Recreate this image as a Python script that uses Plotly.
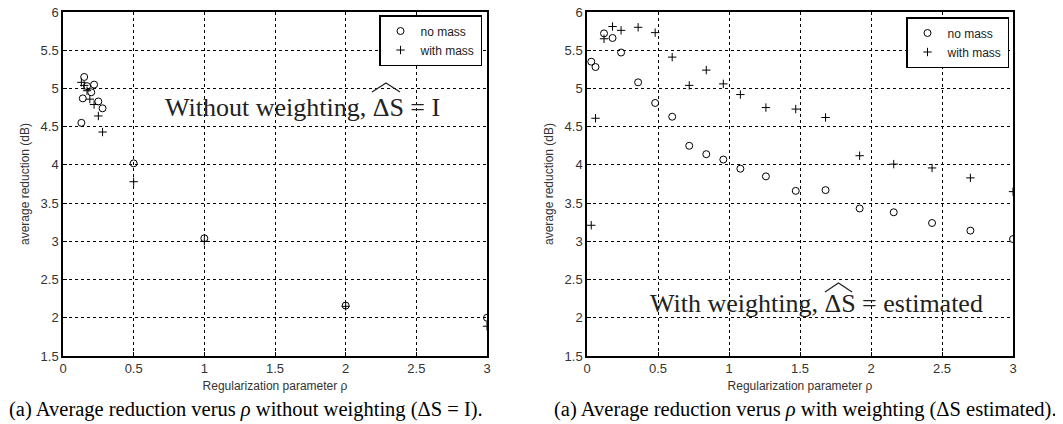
import plotly.graph_objects as go

# ---- data (left: without weighting) ----
left_nomass_x = [0.13, 0.14, 0.15, 0.17, 0.20, 0.22, 0.25, 0.28, 0.5, 1.0, 2.0, 3.0]
left_nomass_y = [4.55, 4.87, 5.15, 5.03, 4.95, 5.05, 4.83, 4.74, 4.02, 3.04, 2.16, 2.00]
left_mass_x = [0.13, 0.15, 0.17, 0.19, 0.22, 0.25, 0.28, 0.5, 1.0, 2.0, 3.0]
left_mass_y = [5.08, 5.04, 4.97, 4.86, 4.79, 4.64, 4.43, 3.78, 3.00, 2.15, 1.89]

# ---- data (right: with weighting) ----
right_x = [0.03, 0.06, 0.12, 0.18, 0.24, 0.36, 0.48, 0.60, 0.72, 0.84, 0.96,
           1.08, 1.26, 1.47, 1.68, 1.92, 2.16, 2.43, 2.70, 3.00]
right_nomass_y = [5.35, 5.28, 5.72, 5.66, 5.47, 5.08, 4.81, 4.63, 4.25, 4.14, 4.07,
                  3.95, 3.85, 3.66, 3.67, 3.43, 3.38, 3.24, 3.14, 3.03]
right_mass_y = [3.21, 4.61, 5.65, 5.81, 5.76, 5.80, 5.73, 5.41, 5.04, 5.24, 5.06,
                4.92, 4.75, 4.73, 4.62, 4.12, 4.01, 3.96, 3.83, 3.65]

x_ticks = [0, 0.5, 1, 1.5, 2, 2.5, 3]
y_ticks = [1.5, 2, 2.5, 3, 3.5, 4, 4.5, 5, 5.5, 6]

W, H = 1063, 424
OFF = 8  # page body margin
SANS = "Liberation Sans, Arial, sans-serif"
SERIF = "Liberation Serif, Times New Roman, serif"

fig = go.Figure()

circ = dict(symbol="circle-open", size=7, color="black", line=dict(color="black", width=1))
plus = dict(symbol="cross-thin-open", size=6, color="black", line=dict(color="black", width=1))

fig.add_trace(go.Scatter(x=left_nomass_x, y=left_nomass_y, mode="markers", marker=circ,
                         name="no mass", xaxis="x", yaxis="y", legend="legend"))
fig.add_trace(go.Scatter(x=left_mass_x, y=left_mass_y, mode="markers", marker=plus,
                         name="with mass", xaxis="x", yaxis="y", legend="legend"))
fig.add_trace(go.Scatter(x=right_x, y=right_nomass_y, mode="markers", marker=circ,
                         name="no mass", xaxis="x2", yaxis="y2", legend="legend2"))
fig.add_trace(go.Scatter(x=right_x, y=right_mass_y, mode="markers", marker=plus,
                         name="with mass", xaxis="x2", yaxis="y2", legend="legend2"))

def px_x(p):
    return (p - OFF) / W

def px_y(p):
    return 1 - (p - OFF) / H

ydom = [px_y(356), px_y(12)]

axis_common = dict(
    showline=True, linecolor="black", linewidth=1.5, mirror=True,
    showgrid=True, gridcolor="black", gridwidth=1, griddash="dot",
    zeroline=False, ticks="inside", ticklen=4, tickcolor="black",
    automargin=False, ticklabeloverflow="allow",
    tickfont=dict(family=SANS, size=13, color="#333"),
)

legend_common = dict(
    xanchor="right", yanchor="top", bgcolor="white", bordercolor="black",
    borderwidth=1.5, font=dict(family=SANS, size=12, color="#222"),
    itemwidth=30, tracegroupgap=0,
)

fig.update_layout(
    template="none",
    width=W, height=H,
    margin=dict(l=0, r=0, t=0, b=0, autoexpand=False),
    plot_bgcolor="white", paper_bgcolor="white",
    xaxis=dict(domain=[px_x(63), px_x(487)], range=[0, 3], tickvals=x_ticks,
               ticktext=[f"{v:g}" for v in x_ticks], anchor="y",
               title=dict(text="Regularization parameter ρ", standoff=6,
                          font=dict(family=SANS, size=12, color="#333")),
               **axis_common),
    yaxis=dict(domain=ydom, range=[1.5, 6], tickvals=y_ticks,
               ticktext=[f"{v:g}" for v in y_ticks], anchor="x",
               title=dict(text="average reduction (dB)", standoff=8,
                          font=dict(family=SANS, size=12, color="#333")),
               **axis_common),
    xaxis2=dict(domain=[px_x(587), px_x(1013)], range=[0, 3], tickvals=x_ticks,
                ticktext=[f"{v:g}" for v in x_ticks], anchor="y2",
                title=dict(text="Regularization parameter ρ", standoff=6,
                           font=dict(family=SANS, size=12, color="#333")),
                **axis_common),
    yaxis2=dict(domain=ydom, range=[1.5, 6], tickvals=y_ticks,
                ticktext=[f"{v:g}" for v in y_ticks], anchor="x2",
                title=dict(text="average reduction (dB)", standoff=8,
                           font=dict(family=SANS, size=12, color="#333")),
                **axis_common),
    legend=dict(x=px_x(482), y=px_y(15), **legend_common),
    legend2=dict(x=px_x(1009), y=px_y(17), **legend_common),
    showlegend=True,
)

# in-plot annotations
fig.add_annotation(text="Without weighting, ΔS = I", x=px_x(302), y=px_y(107),
                   xref="paper", yref="paper", showarrow=False,
                   xanchor="center", yanchor="middle",
                   font=dict(family=SERIF, size=26, color="#222"))
fig.add_annotation(text="With weighting, ΔS = estimated", x=px_x(816), y=px_y(303),
                   xref="paper", yref="paper", showarrow=False,
                   xanchor="center", yanchor="middle",
                   font=dict(family=SERIF, size=26, color="#222"))

# wide hats over ΔS
def hat(x0, x1, ytop, ybot):
    xm = (x0 + x1) / 2
    return dict(type="path", xref="paper", yref="paper",
                path=f"M {px_x(x0)},{px_y(ybot)} L {px_x(xm)},{px_y(ytop)} L {px_x(x1)},{px_y(ybot)}",
                line=dict(color="#222", width=1.2))

fig.add_shape(**hat(372, 400, 83, 92))
fig.add_shape(**hat(825, 852, 283, 292))

# captions
fig.add_annotation(text="(a) Average reduction verus <i>ρ</i> without weighting (ΔS = I).",
                   x=px_x(246), y=px_y(409), xref="paper", yref="paper", showarrow=False,
                   xanchor="center", yanchor="middle",
                   font=dict(family=SERIF, size=20.5, color="black"))
fig.add_annotation(text="(a) Average reduction verus <i>ρ</i> with weighting (ΔS estimated).",
                   x=px_x(805), y=px_y(409), xref="paper", yref="paper", showarrow=False,
                   xanchor="center", yanchor="middle",
                   font=dict(family=SERIF, size=20.5, color="black"))

fig.write_html("out.html")
